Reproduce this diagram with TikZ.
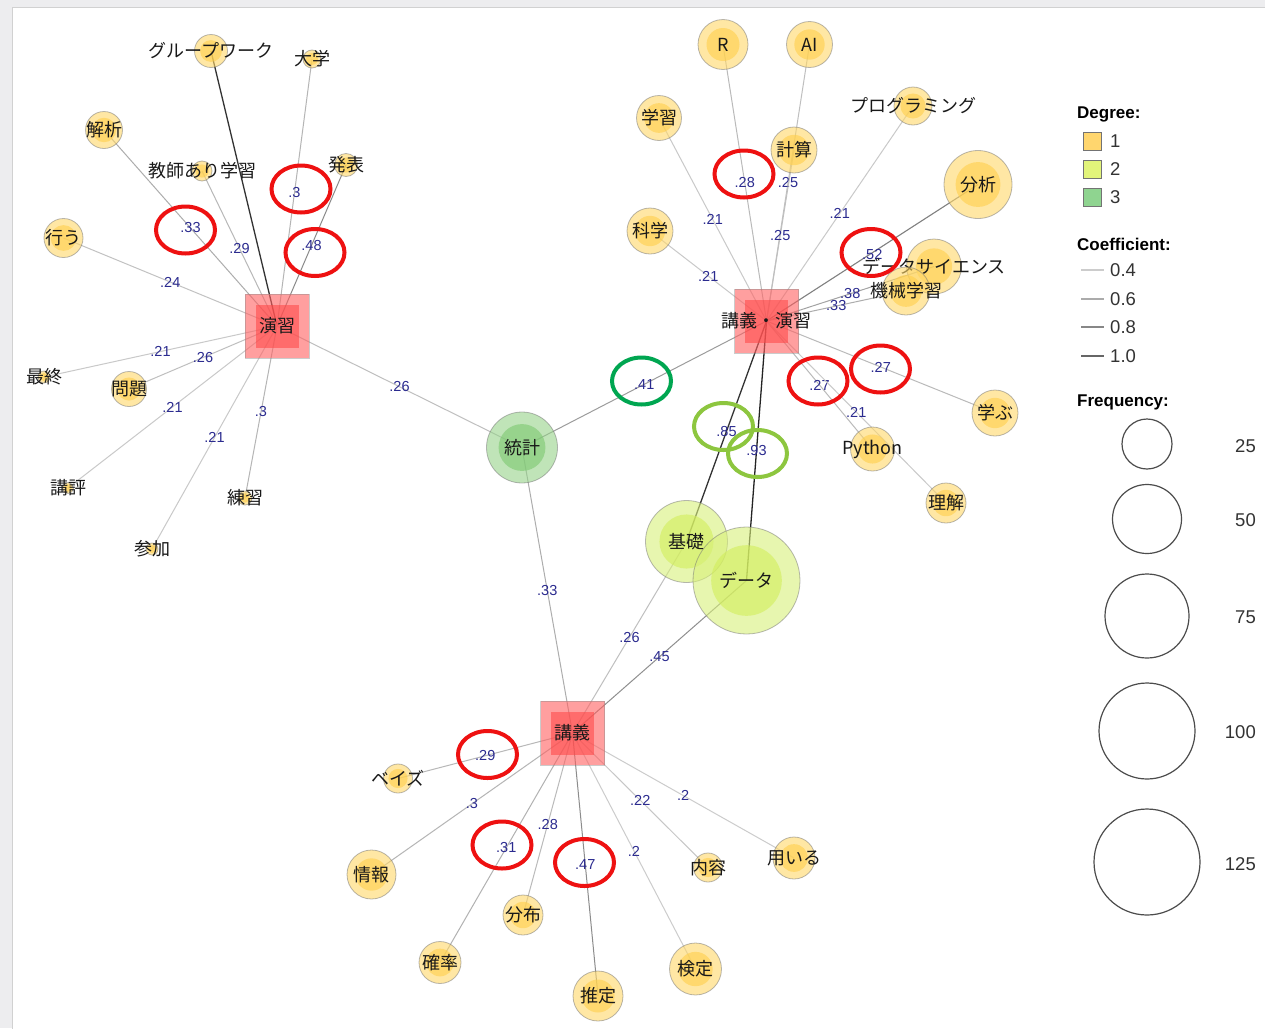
\documentclass[tikz,border=0pt]{standalone}
\usepackage{fontspec}
\setmainfont{Liberation Sans}
\newfontfamily\jpfont{Noto Sans CJK JP}

\pgfdeclarelayer{panellayer}
\pgfdeclarelayer{edgelayer}
\pgfsetlayers{panellayer,edgelayer,main}

% node fills (drawn semi-transparent)
\definecolor{oOut}{HTML}{FFD768}
\definecolor{oIn}{HTML}{FFCF4A}
\definecolor{yOut}{HTML}{D8F07A}
\definecolor{yIn}{HTML}{D2EE5A}
\definecolor{gOut}{HTML}{96D28A}
\definecolor{gIn}{HTML}{7CC870}
\definecolor{hOut}{HTML}{FF6060}
\definecolor{hIn}{HTML}{FF4A4A}
\definecolor{labblue}{HTML}{2B2B8F}
\definecolor{panelgray}{HTML}{EDEDEF}
\definecolor{hlred}{HTML}{EE1111}
\definecolor{hlgreen}{HTML}{00A651}
\definecolor{hllime}{HTML}{8DC63F}
\definecolor{degA}{HTML}{FFD66E}
\definecolor{degB}{HTML}{E2F47A}
\definecolor{degC}{HTML}{8FD490}

\newcommand\kwfont{\jpfont\fontsize{18}{18}\selectfont}
\newcommand\elfont{\fontsize{14.5}{14.5}\selectfont}
\newcommand\legtitle{\bfseries\fontsize{17}{17}\selectfont}
\newcommand\legtext{\fontsize{18.5}{18.5}\selectfont}

\tikzset{
  kw/.style 2 args={circle, inner sep=0pt, minimum size=2*#2pt,
    draw=black!55, draw opacity=.5, line width=.8pt,
    fill=#1Out, fill opacity=.6, text opacity=1,
    path picture={\fill[#1In] (path picture bounding box.center) circle[radius=.66*#2pt];}},
  hub/.style={rectangle, inner sep=0pt, minimum size=64pt,
    draw=black!45, draw opacity=.45, line width=.8pt,
    fill=hOut, fill opacity=.6, text opacity=1,
    path picture={\fill[hIn] ([shift={(-21.5pt,-21.5pt)}]path picture bounding box.center)
                  rectangle ([shift={(21.5pt,21.5pt)}]path picture bounding box.center);}},
  every label/.style={font=\kwfont, text=black!90, text opacity=1, inner sep=0pt},
  ed/.style={draw=black!#1, line width=1pt},
  elab/.style={midway, font=\elfont, text=labblue, inner sep=0pt},
  hl/.style={draw=#1, line width=4pt},
  legsq/.style={rectangle, inner sep=0pt, minimum size=18pt, draw=black!55, line width=.8pt},
  legval/.style={anchor=west, font=\legtext, text=black!80, inner sep=0pt},
  legnum/.style={anchor=east, font=\legtext, text=black!80, inner sep=0pt},
}

\begin{document}
\begin{tikzpicture}[x=1pt,y=-1pt]
\useasboundingbox (0,0) rectangle (1265,1028);
% window panel
\begin{pgfonlayer}{panellayer}
\fill[panelgray] (0,0) rectangle (1265,1028);
\filldraw[fill=white, draw=black!18, line width=.8pt] (12.5,7.5) rectangle (1266,1029);
\end{pgfonlayer}

% ---- hubs ----
\node[hub, label=center:演習] (ensh) at (277,326) {};
\node[hub, label=center:講義・演習] (kgen) at (766.5,321) {};
\node[hub, label=center:講義] (kogi) at (572.5,733) {};

% ---- shared words ----
\node[kw={g}{35.5}, label=center:統計] (toukei) at (522,447.5) {};
\node[kw={y}{41}, label=center:基礎] (kiso) at (686.5,541.5) {};
\node[kw={y}{53.5}, label=center:データ] (data) at (746.5,580.5) {};

% ---- words of 演習 ----
\node[kw={o}{16.5}, label=center:グループワーク] (gw) at (211,51) {};
\node[kw={o}{9}, label=center:大学] (daig) at (312,59) {};
\node[kw={o}{18.5}, label=center:解析] (kaiseki) at (104,130) {};
\node[kw={o}{10}, label=center:教師あり学習] (kyoshi) at (202,171) {};
\node[kw={o}{11.5}, label=center:発表] (happyo) at (346,165) {};
\node[kw={o}{19.5}, label=center:行う] (okonau) at (63.5,238) {};
\node[kw={o}{6}, label=center:最終] (saishu) at (44,377) {};
\node[kw={o}{17.5}, label=center:問題] (mondai) at (129,389) {};
\node[kw={o}{5.5}, label=center:講評] (kohyo) at (68,488) {};
\node[kw={o}{7}, label=center:練習] (renshu) at (245,498) {};
\node[kw={o}{6}, label=center:参加] (sanka) at (152,549) {};

% ---- words of 講義・演習 ----
\node[kw={o}{25}, label=center:R] (rr) at (723,44.5) {};
\node[kw={o}{23}, label=center:AI] (ai) at (809.5,44.5) {};
\node[kw={o}{22.5}, label=center:学習] (gakushu) at (659,118) {};
\node[kw={o}{23}, label=center:計算] (keisan) at (794,150) {};
\node[kw={o}{19}, label=center:プログラミング] (prog) at (913,106) {};
\node[kw={o}{34}, label=center:分析] (bunseki) at (978,184.5) {};
\node[kw={o}{23}, label=center:科学] (kagaku) at (650,231) {};
\node[kw={o}{27.5}, label=center:データサイエンス] (ds) at (934,266.5) {};
\node[kw={o}{24}, label=center:機械学習] (kikai) at (906,291) {};
\node[kw={o}{23}, label=center:学ぶ] (manabu) at (995,413) {};
\node[kw={o}{22}, label=center:Python] (python) at (872.5,449) {};
\node[kw={o}{20}, label=center:理解] (rikai) at (946,503) {};

% ---- words of 講義 ----
\node[kw={o}{14.5}, label=center:ベイズ] (bayes) at (398,778.5) {};
\node[kw={o}{24.5}, label=center:情報] (joho) at (371.5,874.5) {};
\node[kw={o}{21}, label=center:確率] (kakuritsu) at (440,962.5) {};
\node[kw={o}{20}, label=center:分布] (bunpu) at (523,915) {};
\node[kw={o}{25}, label=center:推定] (suitei) at (598,996) {};
\node[kw={o}{26}, label=center:検定] (kentei) at (695.5,969) {};
\node[kw={o}{14.5}, label=center:内容] (naiyo) at (708,867.5) {};
\node[kw={o}{21}, label=center:用いる] (mochiiru) at (794,858) {};

% ---- co-occurrence edges ----
\begin{pgfonlayer}{edgelayer}
\draw[ed=80, line width=1.3pt] (ensh.center) -- (gw.center);
\draw[ed=29] (ensh.center) -- (daig.center) node[elab]{.3};
\draw[ed=32] (ensh.center) -- (kaiseki.center) node[elab]{.33};
\draw[ed=28] (ensh.center) -- (kyoshi.center) node[elab]{.29};
\draw[ed=45] (ensh.center) -- (happyo.center) node[elab]{.48};
\draw[ed=24] (ensh.center) -- (okonau.center) node[elab]{.24};
\draw[ed=21] (ensh.center) -- (saishu.center) node[elab]{.21};
\draw[ed=25] (ensh.center) -- (mondai.center) node[elab]{.26};
\draw[ed=21] (ensh.center) -- (kohyo.center) node[elab]{.21};
\draw[ed=21] (ensh.center) -- (sanka.center) node[elab]{.21};
\draw[ed=29] (ensh.center) -- (renshu.center) node[elab]{.3};
\draw[ed=25] (ensh.center) -- (toukei.center) node[elab]{.26};

\draw[ed=27] (kgen.center) -- (rr.center) node[elab]{.28};
\draw[ed=25] (kgen.center) -- (ai.center) node[elab]{.25};
\draw[ed=25] (kgen.center) -- (keisan.center) node[elab]{.25};
\draw[ed=21] (kgen.center) -- (gakushu.center) node[elab]{.21};
\draw[ed=21] (kgen.center) -- (kagaku.center) node[elab]{.21};
\draw[ed=21] (kgen.center) -- (prog.center) node[elab]{.21};
\draw[ed=50, line width=1.1pt] (kgen.center) -- (bunseki.center) node[elab, yshift=-2pt]{.52};
\draw[ed=36] (kgen.center) -- (ds.center) node[elab]{.38};
\draw[ed=32] (kgen.center) -- (kikai.center) node[elab]{.33};
\draw[ed=27] (kgen.center) -- (manabu.center) node[elab]{.27};
\draw[ed=27] (kgen.center) -- (python.center) node[elab]{.27};
\draw[ed=21] (kgen.center) -- (rikai.center) node[elab]{.21};
\draw[ed=39] (kgen.center) -- (toukei.center) node[elab]{.41};
\draw[ed=80, line width=1.3pt] (kgen.center) -- (kiso.center) node[elab]{.85};
\draw[ed=86, line width=1.3pt] (kgen.center) -- (data.center) node[elab]{.93};

\draw[ed=32] (kogi.center) -- (toukei.center) node[elab]{.33};
\draw[ed=25] (kogi.center) -- (kiso.center) node[elab]{.26};
\draw[ed=44] (kogi.center) -- (data.center) node[elab]{.45};
\draw[ed=28] (kogi.center) -- (bayes.center) node[elab]{.29};
\draw[ed=29] (kogi.center) -- (joho.center) node[elab]{.3};
\draw[ed=30] (kogi.center) -- (kakuritsu.center) node[elab]{.31};
\draw[ed=27] (kogi.center) -- (bunpu.center) node[elab]{.28};
\draw[ed=45] (kogi.center) -- (suitei.center) node[elab]{.47};
\draw[ed=20] (kogi.center) -- (kentei.center) node[elab]{.2};
\draw[ed=22] (kogi.center) -- (naiyo.center) node[elab]{.22};
\draw[ed=20] (kogi.center) -- (mochiiru.center) node[elab]{.2};
\end{pgfonlayer}

% ---- highlighted coefficients ----
\draw[hl=hlred] (185.5,230) ellipse [x radius=29.5pt, y radius=23.5pt];
\draw[hl=hlred] (301,189) ellipse [x radius=29.5pt, y radius=23.5pt];
\draw[hl=hlred] (315,252.5) ellipse [x radius=29.5pt, y radius=23.5pt];
\draw[hl=hlred] (744,174) ellipse [x radius=29.5pt, y radius=23.5pt];
\draw[hl=hlred] (871,252.5) ellipse [x radius=29.5pt, y radius=23.5pt];
\draw[hl=hlred] (818,381) ellipse [x radius=29.5pt, y radius=23.5pt];
\draw[hl=hlred] (880.5,369) ellipse [x radius=29.5pt, y radius=23.5pt];
\draw[hl=hlred] (487.5,754.5) ellipse [x radius=29.5pt, y radius=23.5pt];
\draw[hl=hlred] (502,845) ellipse [x radius=29.5pt, y radius=23.5pt];
\draw[hl=hlred] (584.5,862.5) ellipse [x radius=29.5pt, y radius=23.5pt];
\draw[hl=hlgreen] (641.5,381) ellipse [x radius=29.5pt, y radius=23.5pt];
\draw[hl=hllime] (723.5,426.5) ellipse [x radius=29.5pt, y radius=23.5pt];
\draw[hl=hllime] (757.5,453.5) ellipse [x radius=29.5pt, y radius=23.5pt];

% ---- legend ----
\node[anchor=west, font=\legtitle, inner sep=0pt] (degT) at (1077,114) {Degree:};
\node[legsq, fill=degA] (d1) at (1092.5,141) {};
\node[legsq, fill=degB] (d2) at (1092.5,169) {};
\node[legsq, fill=degC] (d3) at (1092.5,197) {};
\node[legval] (d1t) at (1110,141) {1};
\node[legval] (d2t) at (1110,169) {2};
\node[legval] (d3t) at (1110,197) {3};

\node[anchor=west, font=\legtitle, inner sep=0pt] (coT) at (1077,244) {Coefficient:};
\coordinate (c1a) at (1081,270); \coordinate (c1b) at (1104,270);
\coordinate (c2a) at (1081,299); \coordinate (c2b) at (1104,299);
\coordinate (c3a) at (1081,327); \coordinate (c3b) at (1104,327);
\coordinate (c4a) at (1081,356); \coordinate (c4b) at (1104,356);
\draw[line width=2pt, black!20] (c1a) -- (c1b);
\draw[line width=2pt, black!33] (c2a) -- (c2b);
\draw[line width=2pt, black!47] (c3a) -- (c3b);
\draw[line width=2pt, black!60] (c4a) -- (c4b);
\node[legval] (c1t) at (1110,270) {0.4};
\node[legval] (c2t) at (1110,299) {0.6};
\node[legval] (c3t) at (1110,327) {0.8};
\node[legval] (c4t) at (1110,356) {1.0};

\node[anchor=west, font=\legtitle, inner sep=0pt] (frT) at (1077,402) {Frequency:};
\draw[black!70, line width=1.2pt] (1147,444) circle[radius=25pt];
\draw[black!70, line width=1.2pt] (1147,519) circle[radius=34.5pt];
\draw[black!70, line width=1.2pt] (1147,616) circle[radius=42pt];
\draw[black!70, line width=1.2pt] (1147,731) circle[radius=48pt];
\draw[black!70, line width=1.2pt] (1147,862) circle[radius=53pt];
\node[legnum] (f1) at (1256,446) {25};
\node[legnum] (f2) at (1256,520) {50};
\node[legnum] (f3) at (1256,617) {75};
\node[legnum] (f4) at (1256,732) {100};
\node[legnum] (f5) at (1256,864) {125};
\end{tikzpicture}
\end{document}
